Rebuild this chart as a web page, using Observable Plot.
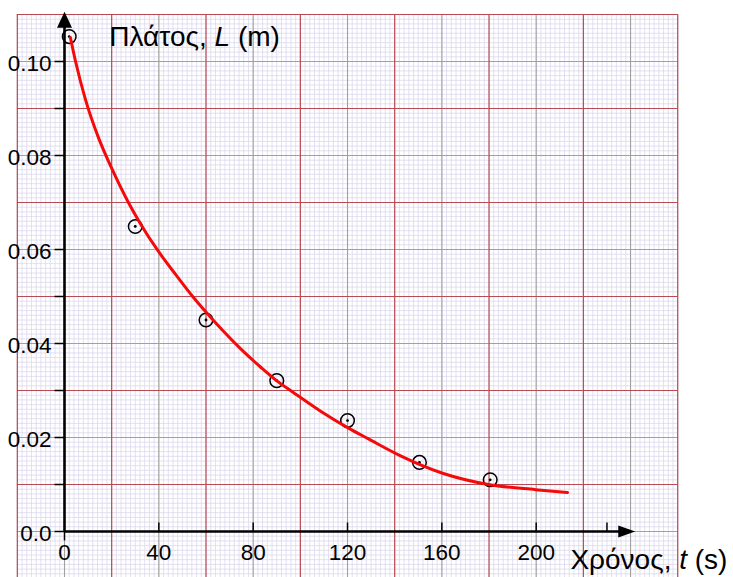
<!DOCTYPE html>
<html>
<head>
<meta charset="utf-8">
<script src="https://cdn.jsdelivr.net/npm/d3@7"></script>
<script src="https://cdn.jsdelivr.net/npm/@observablehq/plot@0.6"></script>
<style>
  html, body { margin: 0; padding: 0; background: #fff; }
  #chart { width: 733px; height: 577px; overflow: hidden; }
</style>
</head>
<body>
<div id="chart"></div>
<script>
// Measured data points: time t (s) and amplitude L (m)
const timeData = [2, 30, 60, 90, 120, 150.5, 180.5];
const ampData = [0.1053, 0.0649, 0.0450, 0.0321, 0.0236, 0.0147, 0.0110];

// Fitted red curve
const curveTime = [2.5, 4.7, 8.9, 14.4, 19.9, 27.1, 32.2, 39.4, 47.1, 54.7, 59.8, 67.0, 74.6, 83.1, 89.9, 96.7, 108.6, 120.4, 128.9, 142.5, 160.3, 179.8, 199.7, 213.3];
const curveAmp = [0.1051, 0.1000, 0.0919, 0.0838, 0.0774, 0.0700, 0.0655, 0.0599, 0.0547, 0.0498, 0.0468, 0.0428, 0.0389, 0.0350, 0.0321, 0.0297, 0.0256, 0.0220, 0.0197, 0.0161, 0.0124, 0.0100, 0.0089, 0.0083];

// Axis ticks and labels
const xTickValues = [0, 40, 80, 120, 160, 200];
const xTickLabels = ["0", "40", "80", "120", "160", "200"];
const xExtraTicks = [40, 80, 120, 160, 200, 230];
const yTickValues = [0, 0.02, 0.04, 0.06, 0.08, 0.10];
const yTickLabels = ["0.0", "0.02", "0.04", "0.06", "0.08", "0.10"];
const yMinorTicks = [0.01, 0.03, 0.05, 0.09];

const yTitle = "Πλάτος, L (m)";
const xTitle = "Χρόνος, t (s)";

// Graph-paper lines
const minorX = d3.range(-20, 260.001, 2);
const minorY = d3.range(-10, 110.5, 1).map(v => v / 1000);
const grayX = d3.range(0, 260.001, 40);
const redX = d3.range(-20, 260.001, 40);
const grayY = d3.range(0, 11, 2).map(v => v / 100);
const redY = d3.range(-1, 12, 2).map(v => v / 100);

const points = timeData.map((t, i) => ({t, L: ampData[i]}));
const curve = curveTime.map((t, i) => ({t, L: curveAmp[i]}));

const arrowUp = {draw(ctx) { ctx.moveTo(0, 0); ctx.lineTo(-7.5, 16); ctx.lineTo(7.5, 16); ctx.closePath(); }};
const arrowRight = {draw(ctx) { ctx.moveTo(0, 0); ctx.lineTo(-17, -6); ctx.lineTo(-17, 6); ctx.closePath(); }};

const ink = "#000";
const chart = Plot.plot({
  width: 733,
  height: 577,
  margin: 0,
  style: {background: "#fff", fontFamily: "'Liberation Sans', Arial, sans-serif", color: ink},
  x: {domain: [0, 200], range: [64, 535.7], axis: null},
  y: {domain: [0, 0.1], range: [531, 61], axis: null},
  marks: [
    // graph paper
    Plot.ruleX(minorX, {x: d => d, y1: -0.012, y2: 0.11, stroke: "#dcd8ee", strokeWidth: 0.8}),
    Plot.ruleY(minorY, {y: d => d, x1: -20, x2: 260, stroke: "#dcd8ee", strokeWidth: 0.8}),
    Plot.ruleX(grayX, {x: d => d, y1: -0.012, y2: 0.11, stroke: "#a0a0a0", strokeWidth: 1.1}),
    Plot.ruleY(grayY, {y: d => d, x1: -20, x2: 260, stroke: "#a0a0a0", strokeWidth: 1.1}),
    Plot.ruleX(redX, {x: d => d, y1: -0.012, y2: 0.11, stroke: "#b84a54", strokeWidth: 1.2}),
    Plot.ruleY(redY, {y: d => d, x1: -20, x2: 260, stroke: "#b84a54", strokeWidth: 1.2}),
    // axes
    Plot.ruleX([0], {x: d => d, y1: 0, y2: 0.1075, stroke: ink, strokeWidth: 2.6}),
    Plot.ruleY([0], {y: d => d, x1: 0, x2: 236, stroke: ink, strokeWidth: 2.6}),
    Plot.dot([0], {x: 0, y: 0.1106, symbol: arrowUp, r: 8, fill: ink, stroke: null}),
    Plot.dot([0], {x: 242, y: 0, symbol: arrowRight, r: 8, fill: ink, stroke: null}),
    // ticks
    Plot.ruleX(xExtraTicks, {x: d => d, y1: 0, y2: 0.0018, stroke: ink, strokeWidth: 1.5}),
    Plot.ruleX([0], {x: d => d, y1: -0.002, y2: 0, stroke: ink, strokeWidth: 1.5}),
    Plot.ruleY(yTickValues.concat(yMinorTicks), {y: d => d, x1: -4, x2: 0, stroke: ink, strokeWidth: 1.5}),
    // tick labels
    Plot.text(xTickValues, {x: d => d, y: 0, text: (d, i) => xTickLabels[i], dy: 21, fontSize: 22.5, fill: ink}),
    Plot.text(yTickValues, {x: 0, y: d => d, text: (d, i) => yTickLabels[i], dx: -13, dy: 2, textAnchor: "end", fontSize: 22.5, fill: ink}),
    // data
    Plot.dot(points, {x: "t", y: "L", r: 6.8, stroke: ink, strokeWidth: 1.5, fill: "none"}),
    Plot.dot(points, {x: "t", y: "L", r: 1.4, fill: ink, stroke: null}),
    Plot.line(curve, {x: "t", y: "L", stroke: "#f40a0a", strokeWidth: 3, curve: "monotone-x"}),
    // titles
    Plot.text([yTitle], {x: 19, y: 0.1053, text: d => d, textAnchor: "start", fontSize: 28, fill: ink}),
    Plot.text([xTitle], {x: 214.5, y: -0.006, text: d => d, textAnchor: "start", fontSize: 28, fill: ink})
  ]
});

// italic variable letters in the titles
chart.querySelectorAll("text").forEach(t => {
  const s = t.textContent;
  let parts = null;
  if (s === yTitle) parts = ["Πλάτος, ", "L", " (m)"];
  if (s === xTitle) parts = ["Χρόνος, ", "t", " (s)"];
  if (parts) {
    t.textContent = "";
    parts.forEach((p, i) => {
      const ts = document.createElementNS("http://www.w3.org/2000/svg", "tspan");
      ts.textContent = p;
      if (i === 1) ts.setAttribute("font-style", "italic");
      t.appendChild(ts);
    });
  }
});

document.getElementById("chart").appendChild(chart);
</script>
</body>
</html>
